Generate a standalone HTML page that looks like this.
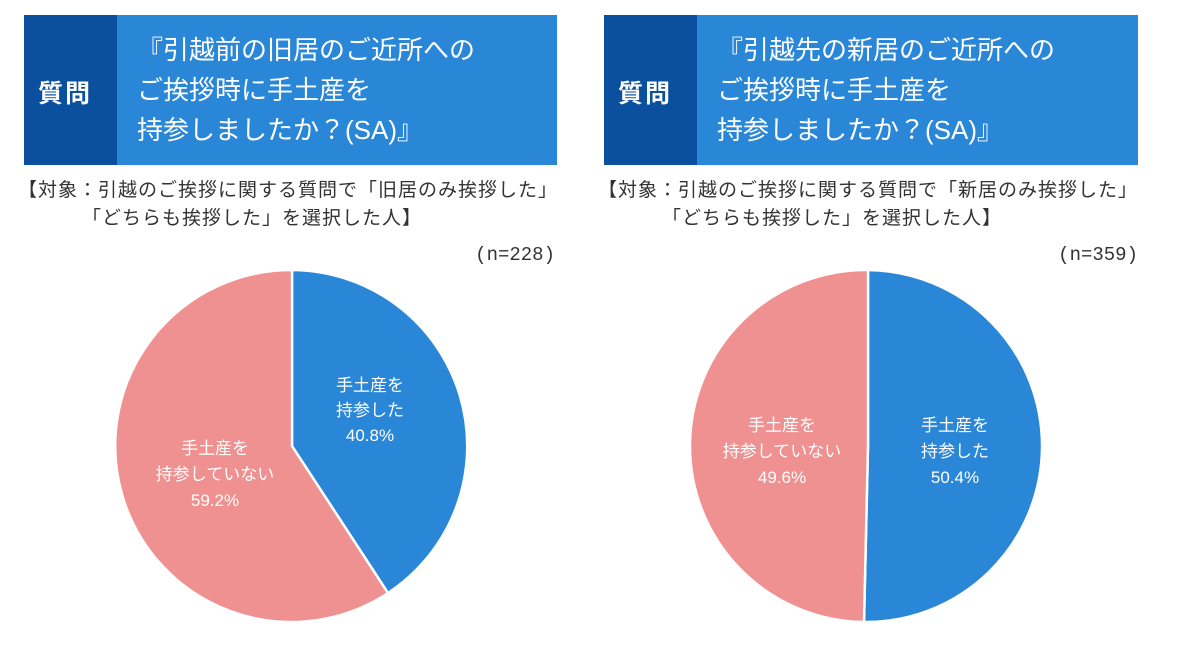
<!DOCTYPE html>
<html><head><meta charset="utf-8"><style>
body{margin:0;width:1200px;height:661px;background:#fff;position:relative;overflow:hidden;font-family:"Liberation Sans","Noto Sans CJK JP",sans-serif;}
.a{position:absolute;white-space:nowrap;}
.dk{background:#0b4f9f;}.lt{background:#2a87d7;}
.q{color:#fff;font-size:25px;font-weight:bold;letter-spacing:2px;}
.t{color:#fff;font-size:26px;line-height:40px;}
.s{font-size:19px;letter-spacing:1px;color:#333;}
.n{font-family:"Liberation Mono",monospace;font-size:19px;color:#333;}
</style></head><body>
<div class="a dk" style="left:24px;top:15px;width:93px;height:150px"></div>
<div class="a lt" style="left:117px;top:15px;width:440px;height:150px"></div>
<div class="a q" style="left:38px;top:74px">質問</div>
<div class="a t" style="left:137px;top:30px">『引越前の旧居のご近所への<br>ご挨拶時に手土産を<br>持参しましたか？(SA)』</div>
<div class="a s" style="left:18px;top:175px">【対象：引越のご挨拶に関する質問で「旧居のみ挨拶した」</div>
<div class="a s" style="left:82px;top:203px">「どちらも挨拶した」を選択した人】</div>
<div class="a n" style="right:645px;top:244px">(n=228)</div>

<div class="a dk" style="left:604px;top:15px;width:93px;height:150px"></div>
<div class="a lt" style="left:697px;top:15px;width:441px;height:150px"></div>
<div class="a q" style="left:618px;top:74px">質問</div>
<div class="a t" style="left:717px;top:30px">『引越先の新居のご近所への<br>ご挨拶時に手土産を<br>持参しましたか？(SA)』</div>
<div class="a s" style="left:598px;top:175px">【対象：引越のご挨拶に関する質問で「新居のみ挨拶した」</div>
<div class="a s" style="left:662px;top:203px">「どちらも挨拶した」を選択した人】</div>
<div class="a n" style="right:62px;top:244px">(n=359)</div>

<svg class="a" style="left:0;top:0" width="1200" height="661">
<g stroke="#fff" stroke-width="2.5">
<path d="M292,446 L292,270 A176,176 0 0 1 388,593 Z" fill="#2a87d7"/>
<path d="M292,446 L388,593 A176,176 0 1 1 292,270 Z" fill="#ee9190"/>
<path d="M868,446 L868,270 A176,176 0 1 1 864,622 Z" fill="#2a87d7"/>
<path d="M868,446 L864,622 A176,176 0 0 1 868,270 Z" fill="#ee9190"/>
</g>
<g fill="#fff" font-size="17" text-anchor="middle" font-family="Liberation Sans, Noto Sans CJK JP, sans-serif">
<text x="370" y="391">手土産を</text><text x="370" y="416">持参した</text><text x="370" y="441">40.8%</text>
<text x="215" y="454">手土産を</text><text x="215" y="480">持参していない</text><text x="215" y="506">59.2%</text>
<text x="955" y="431">手土産を</text><text x="955" y="457">持参した</text><text x="955" y="483">50.4%</text>
<text x="782" y="431">手土産を</text><text x="782" y="457">持参していない</text><text x="782" y="483">49.6%</text>
</g>
</svg>
</body></html>
